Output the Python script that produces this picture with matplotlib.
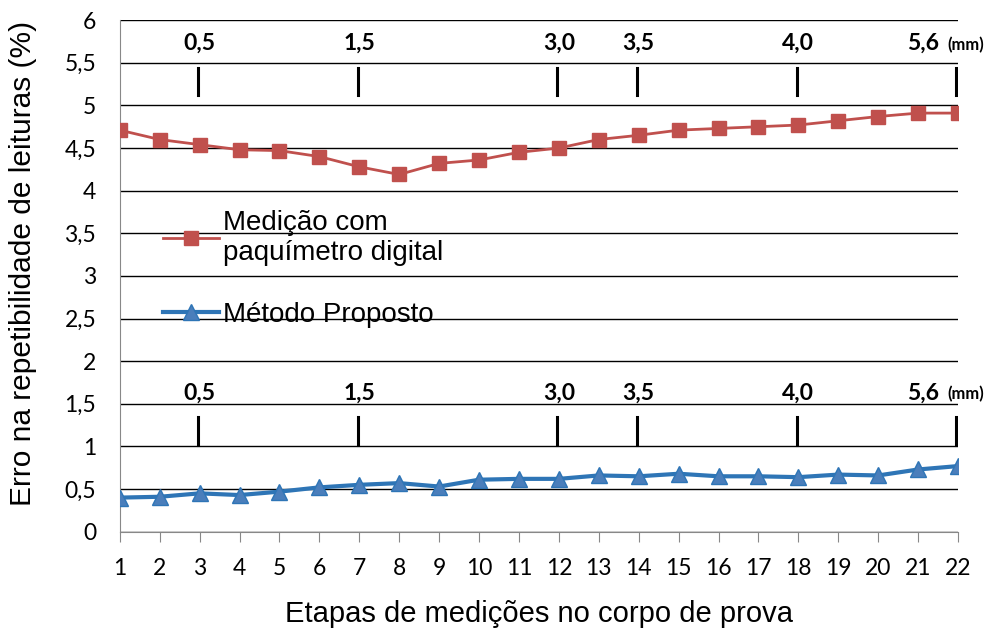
import numpy as np
import matplotlib.pyplot as plt
from matplotlib.ticker import FuncFormatter

etapas = np.arange(1, 23)
paquimetro = [4.71, 4.60, 4.54, 4.48, 4.47, 4.40, 4.28, 4.19, 4.32, 4.36, 4.45,
              4.50, 4.60, 4.65, 4.71, 4.73, 4.75, 4.77, 4.82, 4.87, 4.91, 4.91]
proposto = [0.40, 0.41, 0.45, 0.43, 0.47, 0.52, 0.55, 0.57, 0.53, 0.61, 0.62,
            0.62, 0.66, 0.65, 0.68, 0.65, 0.65, 0.64, 0.67, 0.66, 0.73, 0.77]

# marcas de espessura (mm) sobre as etapas
marca_etapa = [3, 7, 12, 14, 18, 22]
marca_texto = ['0,5', '1,5', '3,0', '3,5', '4,0', '5,6']

plt.rcParams['font.family'] = ['Liberation Sans', 'DejaVu Sans']
calibri = ['Lato', 'DejaVu Sans']

fig = plt.figure(figsize=(9.98, 6.3), dpi=100)
ax = fig.add_axes([0.12, 0.156, 0.84, 0.812])

ax.plot(etapas, paquimetro, color='#C0504D', lw=2, marker='s', ms=10,
        mec='#C0504D', mfc='#C0504D', label='Medição com\npaquímetro digital', zorder=3)
ax.plot(etapas, proposto, color='#2E75B6', lw=3, marker='^', ms=12,
        mec='#2E75B6', mfc='#4A7EBB', label='Método Proposto', zorder=3)

# rótulos e traços de espessura
for y_txt, y_bar in [(5.73, 5.28), (1.63, 1.18)]:
    for xe, t in zip(marca_etapa, marca_texto):
        if xe == marca_etapa[-1]:
            ax.annotate(t, (xe, y_txt), xytext=(-14, 0), textcoords='offset points',
                        ha='right', va='center', fontsize=16.5, fontweight='bold', family=calibri)
            ax.annotate('(mm)', (xe, y_txt - 0.02), xytext=(-8, 0), textcoords='offset points',
                        ha='left', va='center', fontsize=12, fontweight='bold',
                        family=calibri, annotation_clip=False)
        else:
            ax.text(xe, y_txt, t, ha='center', va='center', fontsize=16.5,
                    fontweight='bold', family=calibri)
        ax.plot([xe - 0.04, xe - 0.04], [y_bar - 0.16, y_bar + 0.16], color='black',
                lw=2.2, zorder=2)

ax.set_xlim(1, 22)
ax.set_ylim(0, 6)
ax.set_xticks(etapas)
ax.set_yticks(np.arange(0, 6.01, 0.5))
ax.yaxis.set_major_formatter(FuncFormatter(lambda v, p: f'{v:g}'.replace('.', ',')))
ax.grid(axis='y', color='black', lw=1)
ax.set_axisbelow(True)

for s in ['top', 'right']:
    ax.spines[s].set_visible(False)
ax.spines['left'].set_color('#888888')
ax.spines['bottom'].set_color('#888888')
ax.tick_params(axis='x', length=7, color='#888888', labelsize=16.5, pad=12)
ax.tick_params(axis='y', length=0, labelsize=16.5, pad=17)
for lab in ax.get_xticklabels() + ax.get_yticklabels():
    lab.set_family(calibri)

ax.set_xlabel('Etapas de medições no corpo de prova', fontsize=21, labelpad=15)
ax.set_ylabel('Erro na repetibilidade de leituras (%)', fontsize=21.5)
ax.yaxis.set_label_coords(-0.099, 0.525)

ax.legend(loc='upper left', bbox_to_anchor=(0.022, 0.678), frameon=False,
          fontsize=20, handlelength=2.0, labelspacing=1.3, handletextpad=0.15)

fig.savefig('out.png', dpi=100)
